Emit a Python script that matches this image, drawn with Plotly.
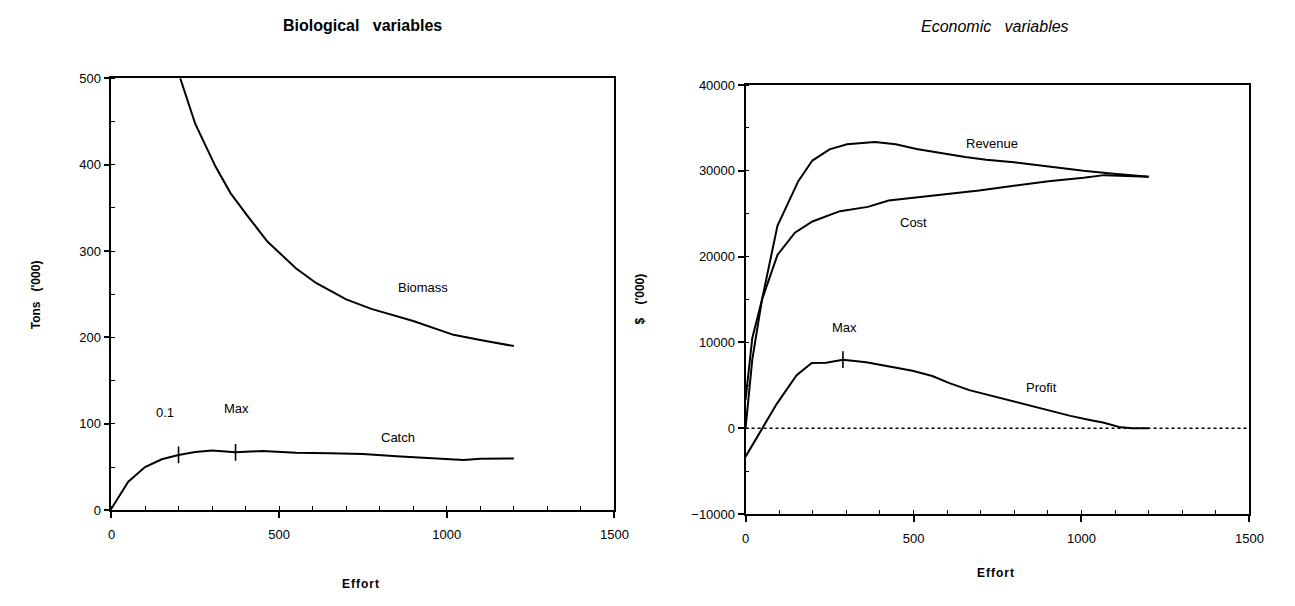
import plotly.graph_objects as go

# ---------------- data ----------------
catch_effort = [0, 25, 50, 100, 150, 200, 250, 300, 370, 450, 550, 650, 750, 850, 950, 1050, 1100, 1200]
catch_tons = [2, 18, 33, 50, 59, 64, 67.5, 69, 67, 68.5, 66.5, 66, 65, 62.5, 60.5, 58, 59.5, 60]

biomass_effort = [205, 250, 310, 355, 405, 465, 550, 610, 700, 775, 900, 1020, 1100, 1200]
biomass_tons = [500, 447, 398, 367, 341, 311, 280, 263, 244, 233, 219, 203, 197, 190]

catch_mark_effort = [200, 370]
catch_mark_tons = [64, 67]

revenue_effort = [0, 20, 49, 95, 157, 199, 250, 302, 385, 447, 509, 592, 654, 716, 799, 902, 1006, 1088, 1200]
revenue = [0, 8000, 15000, 23600, 28800, 31200, 32500, 33100, 33350, 33100, 32550, 32000, 31600, 31300, 31000, 30500, 30000, 29700, 29300]

cost_effort = [0, 20, 49, 95, 147, 199, 281, 364, 426, 509, 592, 695, 799, 902, 1006, 1068, 1200]
cost = [3300, 10500, 15000, 20200, 22800, 24100, 25300, 25800, 26550, 26900, 27300, 27700, 28250, 28800, 29200, 29500, 29300]

profit_effort = [0, 49, 93, 152, 197, 240, 290, 359, 425, 497, 556, 605, 666, 738, 786, 847, 907, 967, 1028, 1064, 1112, 1150, 1200]
profit = [-3300, 0, 2850, 6200, 7600, 7650, 8000, 7700, 7200, 6700, 6100, 5300, 4450, 3750, 3250, 2700, 2050, 1450, 950, 680, 150, 0, 0]

profit_mark_effort = [290]
profit_mark = [8000]

zero_effort = [0, 1500]
zero_line = [0, 0]

x_ticks = [0, 500, 1000, 1500]
left_yticks = [0, 100, 200, 300, 400, 500]
right_yticks = [-10000, 0, 10000, 20000, 30000, 40000]

# ---------------- figure ----------------
W, H = 1295, 606
FONT = "Liberation Sans, Arial, Helvetica, sans-serif"
fig = go.Figure()

line = dict(color="black", width=2)
mark = dict(symbol="line-ns", size=12, line=dict(color="black", width=1.6))

fig.add_trace(go.Scatter(x=biomass_effort, y=biomass_tons, mode="lines", line=line, xaxis="x", yaxis="y"))
fig.add_trace(go.Scatter(x=catch_effort, y=catch_tons, mode="lines", line=line, xaxis="x", yaxis="y"))
fig.add_trace(go.Scatter(x=catch_mark_effort, y=catch_mark_tons, mode="markers", marker=mark,
                         xaxis="x", yaxis="y"))

fig.add_trace(go.Scatter(x=zero_effort, y=zero_line, mode="lines",
                         line=dict(color="black", width=1.4, dash="3px,3px"), xaxis="x2", yaxis="y2"))
fig.add_trace(go.Scatter(x=revenue_effort, y=revenue, mode="lines", line=line, xaxis="x2", yaxis="y2"))
fig.add_trace(go.Scatter(x=cost_effort, y=cost, mode="lines", line=line, xaxis="x2", yaxis="y2"))
fig.add_trace(go.Scatter(x=profit_effort, y=profit, mode="lines", line=line, xaxis="x2", yaxis="y2"))
fig.add_trace(go.Scatter(x=profit_mark_effort, y=profit_mark, mode="markers", marker=mark,
                         xaxis="x2", yaxis="y2"))

def px_x(p):
    return p / W

def px_y(p):
    return 1 - p / H

axis_common = dict(
    showgrid=False, zeroline=False, showline=True, linecolor="black", linewidth=1.8,
    mirror=True, ticks="outside", ticklen=6, tickwidth=1.6, tickcolor="black",
    tickfont=dict(family=FONT, size=13, color="black"), tickformat="d",
)
minor_x = dict(dtick=100, ticks="inside", ticklen=4, tickcolor="black", tickwidth=1.3)

fig.update_layout(
    width=W, height=H, margin=dict(l=0, r=0, t=0, b=0),
    paper_bgcolor="white", plot_bgcolor="white", showlegend=False,
    xaxis=dict(domain=[px_x(109), px_x(619)], range=[0, 1500], tickvals=x_ticks,
               minor=minor_x, anchor="y", ticklabelstandoff=5, **axis_common),
    yaxis=dict(domain=[px_y(516), px_y(73)], range=[0, 500], tickvals=left_yticks,
               minor=dict(dtick=50, ticks="inside", ticklen=4, tickcolor="black", tickwidth=1.3),
               anchor="x", **axis_common),
    xaxis2=dict(domain=[px_x(752), px_x(1263)], range=[0, 1500], tickvals=x_ticks,
                minor=minor_x, anchor="y2", ticklabelstandoff=5, **axis_common),
    yaxis2=dict(domain=[px_y(520), px_y(80)], range=[-10000, 40000], tickvals=right_yticks,
                minor=dict(dtick=5000, ticks="inside", ticklen=4, tickcolor="black", tickwidth=1.3),
                anchor="x2", **axis_common),
)

ann = []
def paper_text(text, x, y, size=12, bold=False, italic=False, angle=0):
    t = text
    if bold:
        t = "<b>" + t + "</b>"
    if italic:
        t = "<i>" + t + "</i>"
    ann.append(dict(text=t, x=px_x(x), y=px_y(y), xref="paper", yref="paper",
                    xanchor="center", yanchor="middle", showarrow=False, textangle=angle,
                    font=dict(family=FONT, size=size, color="black")))

def data_text(text, x, y, xr, yr, size=13):
    ann.append(dict(text=text, x=x, y=y, xref=xr, yref=yr, xanchor="center", yanchor="middle",
                    showarrow=False, font=dict(family=FONT, size=size, color="black")))

paper_text("Biological\u00a0\u00a0\u00a0variables", 364, 19, size=16, bold=True)
paper_text("Economic\u00a0\u00a0\u00a0variables", 1005, 20, size=16, italic=True)
paper_text("Tons\u00a0\u00a0\u00a0('000)", 32, 295, size=12, bold=True, angle=-90)
paper_text("$\u00a0\u00a0\u00a0\u00a0('000)", 645, 300, size=12, bold=True, angle=-90)
paper_text("E\u200af\u200af\u200ao\u200ar\u200at", 362, 592, size=12, bold=True)
paper_text("E\u200af\u200af\u200ao\u200ar\u200at", 1005, 580, size=12, bold=True)

data_text("Biomass", 930, 258, "x", "y")
data_text("Catch", 855, 84, "x", "y")
data_text("Max", 372, 118, "x", "y")
data_text("0.1", 160, 113, "x", "y")

data_text("Revenue", 734, 33200, "x2", "y2")
data_text("Cost", 499, 24000, "x2", "y2")
data_text("Max", 295, 11800, "x2", "y2")
data_text("Profit", 880, 4800, "x2", "y2")

fig.update_layout(annotations=ann)

fig.write_html("out.html")
